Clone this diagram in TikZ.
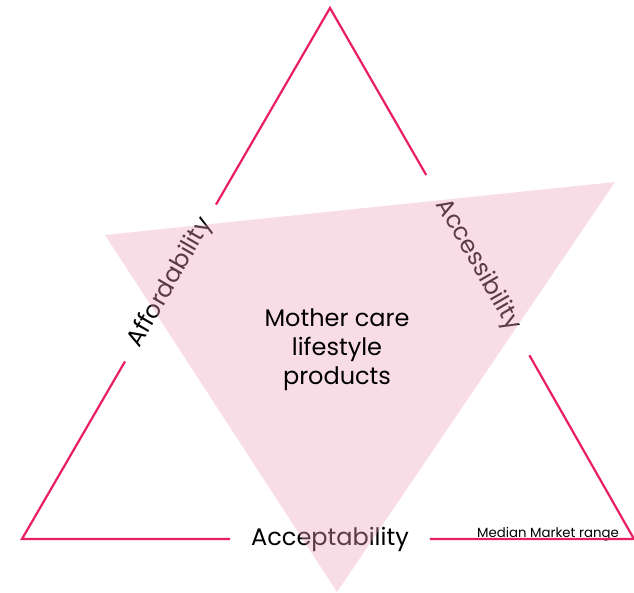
\documentclass[tikz,border=0pt]{standalone}
\usepackage{fontspec}
\setmainfont{Poppins}
\definecolor{linepink}{RGB}{233,30,99}
\definecolor{fillpink}{RGB}{240,162,188}

\begin{document}
\begin{tikzpicture}[x=1pt, y=-1pt, every node/.style={font=\fontsize{24}{29}\selectfont}]
    \useasboundingbox (0,0) rectangle (634,593);
    \coordinate (top) at (330,8);
    \coordinate (bl) at (22,539);
    \coordinate (br) at (634,539);

    \node [rotate=60, inner xsep=18pt] (afford) at (170.5,283) {Affordability};
    \node [rotate=-60, inner xsep=30pt] (access) at (478,265) {Accessibility};
    \node [inner xsep=21pt] (accept) at (330,539) {Acceptability};
    \node [anchor=base, font=\fontsize{13.3}{15}\selectfont] (median) at (548,537) {Median Market range};

    \draw [linepink, line width=2.2pt] (afford) -- (top) -- (access) -- (br) -- (accept) -- (bl) -- (afford);

    \fill [fillpink, opacity=.37] (105,235) -- (615,182) -- (337,592) -- cycle;

    \node [align=center] (product) at (337,350) {Mother care\\lifestyle\\products};
\end{tikzpicture}
\end{document}
